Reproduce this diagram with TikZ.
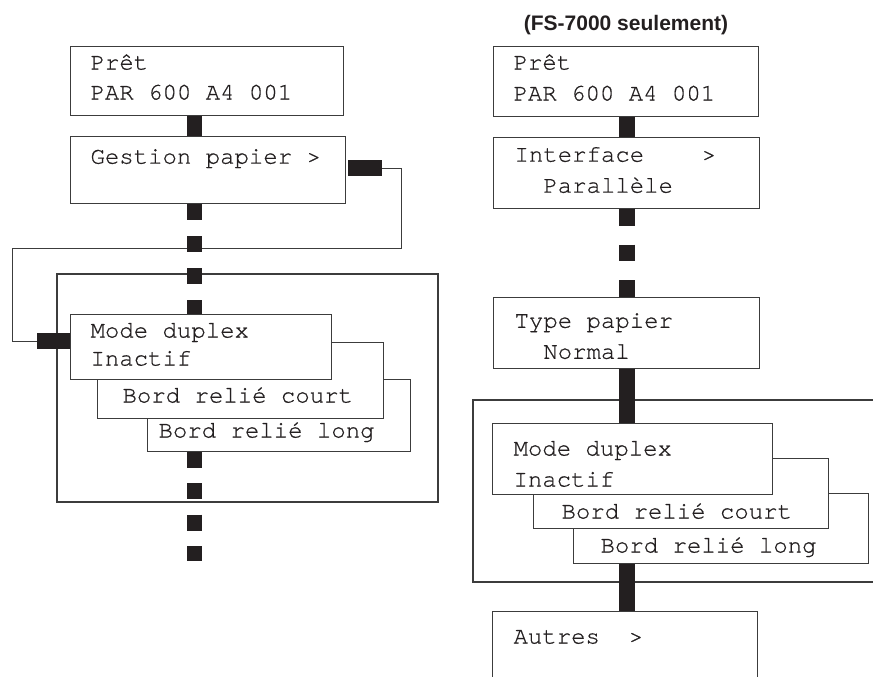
\documentclass[tikz,border=0pt]{standalone}
\usepackage{fontspec}
\setmainfont{Liberation Sans}
\newfontfamily\lcdfamily[FakeBold=0.6]{TeX Gyre Cursor}
\usepackage{tikz}
\usetikzlibrary{positioning}
\definecolor{menuBlack}{HTML}{231F20}
\definecolor{menuLine}{HTML}{3C3C3C}
\newcommand{\lcdfont}{\lcdfamily\fontsize{24}{31}\selectfont}
\newcommand{\notefont}{\bfseries\fontsize{21}{25}\selectfont}
\tikzset{
  lcd/.style={draw=menuLine, line width=1.1pt, fill=white, font=\lcdfont,
              text=menuBlack, align=justify, anchor=north west, inner ysep=0pt,
              execute at begin node={\spaceskip=14.4pt\xspaceskip=14.4pt\relax}},
  bar/.style={draw=menuBlack, line width=15.5pt},
  wire/.style={draw=menuLine, line width=1.1pt},
  frame/.style={draw=menuLine, line width=1.1pt},
}

\begin{document}
\begin{tikzpicture}[x=1pt, y=-1pt]
  \path[use as bounding box] (0,0) rectangle (873,677);
  \clip (0,0) rectangle (873,677);

  % left column
  \node[lcd, text width=233pt, inner xsep=20pt, text height=23pt, text depth=46pt]
    (pretL) at (70,46) {Prêt\\[-1pt]PAR 600 A4 001};
  \node[lcd, below=20pt of pretL.south west, anchor=north west,
        text width=235pt, inner xsep=20pt, text height=27pt, text depth=40pt]
    (gestL) {Gestion papier >};
  \node[lcd, text width=241pt, inner xsep=11pt, text height=58pt, text depth=14pt]
    (longL) at (147,379) {Bord relié long};
  \node[lcd, text width=236pt, inner xsep=25pt, text height=60pt, text depth=16pt]
    (courtL) at (97,342) {Bord relié court};
  \node[lcd, text width=221pt, inner xsep=20pt, text height=23pt, text depth=42pt]
    (modeL) at (70,314) {Mode duplex\\[-3pt]Inactif};

  % right column
  \node[font=\notefont, text=menuBlack] (note) at (626,25) {(FS-7000 seulement)};
  \node[lcd, text width=225pt, inner xsep=20pt, text height=23pt, text depth=47pt]
    (pretR) at (493,46) {Prêt\\PAR 600 A4 001};
  \node[lcd, below=20pt of pretR.south west, anchor=north west,
        text width=224pt, inner xsep=21pt, text height=24pt, text depth=47pt]
    (ifaceR) {Interface~~~~>\\\null~~Parallèle};
  \node[lcd, below=88pt of ifaceR.south west, anchor=north west,
        text width=224pt, inner xsep=21pt, text height=30pt, text depth=41pt]
    (typeR) {Type papier\\\null~~Normal};
  \node[lcd, text width=241pt, inner xsep=27pt, text height=59pt, text depth=11pt]
    (longR) at (573,493) {Bord relié long};
  \node[lcd, text width=239pt, inner xsep=28pt, text height=60pt, text depth=10pt]
    (courtR) at (533,458) {Bord relié court};
  \node[lcd, text width=238pt, inner xsep=21pt, text height=32pt, text depth=39pt]
    (modeR) at (492,423) {Mode duplex\\Inactif};
  \node[lcd, text width=223pt, inner xsep=21pt, text height=32pt, text depth=80pt]
    (autresR) at (492,611) {Autres~~>};

  % frames round the duplex menus
  \draw[frame] (57,274) rectangle (438,502);
  \draw[frame] (880,400) -| (473,582) -- (880,582);

  % jump from Gestion papier to Mode duplex
  \coordinate (gestBar) at ([xshift=2pt, yshift=2pt]gestL.east);
  \coordinate (gestOut) at ([xshift=36pt, yshift=2pt]gestL.east);
  \coordinate (modeBar) at ([yshift=6pt]modeL.west);
  \coordinate (modeIn) at ([xshift=-33pt, yshift=6pt]modeL.west);
  \draw[wire] (gestOut) -- ++(19,0) |- ++(-389,80.5) |- (modeIn);
  \draw[bar] (gestBar) -- (gestOut);
  \draw[bar] (modeIn) -- (modeBar);

  % menu spines
  \coordinate (spineL) at (194.5,0);
  \coordinate (spineR) at (627,0);
  \coordinate (endL) at (194.5,561);
  \draw[bar] (pretL.south -| spineL) -- (gestL.north -| spineL);
  \draw[bar, dash pattern=on 16pt off 16pt] (gestL.south -| spineL) -- (modeL.north -| spineL);
  \draw[bar, dash pattern=on 16pt off 15.3pt] (longL.south -| spineL) -- (endL);
  \draw[bar] (pretR.south -| spineR) -- (ifaceR.north -| spineR);
  \draw[bar, dash pattern=on 16.5pt off 19pt] (ifaceR.south -| spineR) -- (typeR.north -| spineR);
  \draw[bar] (typeR.south -| spineR) -- (modeR.north -| spineR);
  \draw[bar] (longR.south -| spineR) -- (autresR.north -| spineR);
\end{tikzpicture}
\end{document}
